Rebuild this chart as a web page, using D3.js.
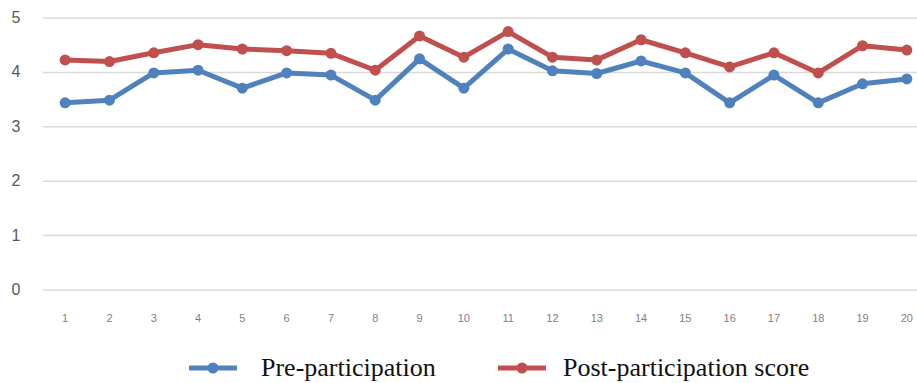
<!DOCTYPE html>
<html>
<head>
<meta charset="utf-8">
<script src="https://cdn.jsdelivr.net/npm/d3@7"></script>
<style>
    body { margin: 0; background: #fff; }
    svg { display: block; }
</style>
</head>
<body>
<svg width="917" height="383"></svg>
<script>
const categories = d3.range(1, 21).map(String)
const preScores = [3.44, 3.49, 3.99, 4.04, 3.71, 3.99, 3.95, 3.49, 4.25, 3.71,
                   4.43, 4.03, 3.98, 4.21, 3.99, 3.44, 3.95, 3.44, 3.79, 3.88]
const postScores = [4.23, 4.20, 4.36, 4.51, 4.43, 4.40, 4.35, 4.04, 4.67, 4.28,
                     4.75, 4.28, 4.23, 4.60, 4.36, 4.10, 4.36, 3.99, 4.49, 4.41]
const yTicks = [0, 1, 2, 3, 4, 5]
const seriesNames = ["Pre-participation", "Post-participation score"]

const series = [
    {name: seriesNames[0], values: preScores, color: "#4F81BD"},
    {name: seriesNames[1], values: postScores, color: "#C0504D"}
]

const svg = d3.select("svg")

const x = d3.scaleBand().domain(categories).range([43, 929])
const y = d3.scaleLinear().domain([0, 5]).range([290, 18])

// gridlines + y labels
svg.append("g")
    .selectAll("line.grid")
    .data(yTicks)
    .enter()
    .append("line")
    .attr("class", "grid")
    .attr("x1", 43)
    .attr("x2", 917)
    .attr("y1", d => y(d))
    .attr("y2", d => y(d))
    .style("stroke", "#d9d9d9")
    .style("stroke-width", 1.5)

svg.append("g")
    .selectAll("text.ylabel")
    .data(yTicks)
    .enter()
    .append("text")
    .attr("class", "ylabel")
    .text(d => d)
    .attr("x", 16)
    .attr("y", d => y(d) + 5)
    .style("text-anchor", "middle")
    .style("font-family", "Liberation Sans, Arial, sans-serif")
    .style("font-size", "16px")
    .style("fill", "#595959")

svg.append("g")
    .selectAll("text.xlabel")
    .data(categories)
    .enter()
    .append("text")
    .attr("class", "xlabel")
    .text(d => d)
    .attr("x", d => x(d) + x.bandwidth() / 2)
    .attr("y", 322)
    .style("text-anchor", "middle")
    .style("font-family", "Liberation Sans, Arial, sans-serif")
    .style("font-size", "11px")
    .style("fill", "#7f7f7f")

const line = d3.line()
    .x((d, i) => x(categories[i]) + x.bandwidth() / 2)
    .y(d => y(d))

series.forEach(s => {
    const g = svg.append("g")
    g.append("path")
        .attr("d", line(s.values))
        .style("fill", "none")
        .style("stroke", s.color)
        .style("stroke-width", 5)
        .style("stroke-linejoin", "round")
    g.selectAll("circle")
        .data(s.values)
        .enter()
        .append("circle")
        .attr("cx", (d, i) => x(categories[i]) + x.bandwidth() / 2)
        .attr("cy", d => y(d))
        .attr("r", 5.5)
        .style("fill", s.color)
})

// legend
const legendX = [189, 498]
const legendTextX = [72, 65]
const legend = svg.append("g")
    .selectAll("g.legend")
    .data(series)
    .enter()
    .append("g")
    .attr("class", "legend")
    .attr("transform", (d, i) => `translate(${legendX[i]}, 368)`)

legend.append("line")
    .attr("x1", 0)
    .attr("x2", 48)
    .style("stroke", d => d.color)
    .style("stroke-width", 5)
legend.append("circle")
    .attr("cx", 24)
    .attr("r", 5.5)
    .style("fill", d => d.color)
legend.append("text")
    .text(d => d.name)
    .attr("x", (d, i) => legendTextX[i])
    .attr("y", 8)
    .style("font-family", "Liberation Serif, Times New Roman, serif")
    .style("font-size", "26px")
    .style("fill", "#111")
</script>
</body>
</html>
